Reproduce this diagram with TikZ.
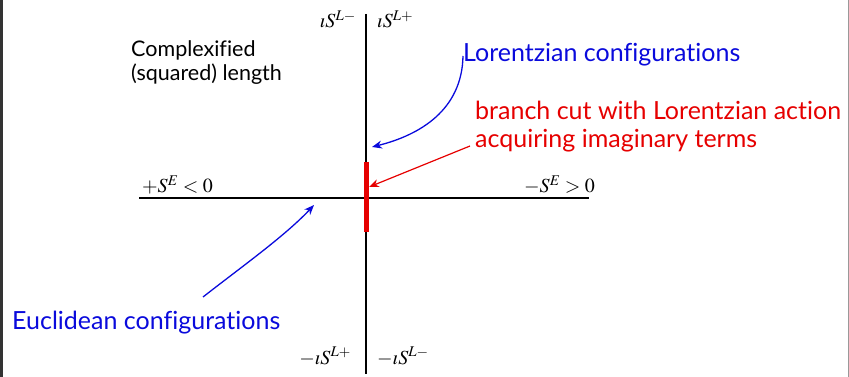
\documentclass[tikz,border=0pt]{standalone}
\usepackage{mathptmx}
\usepackage[no-math]{fontspec}
\setmainfont[Ligatures={NoCommon,NoRare,NoDiscretionary}]{Lato}
\usetikzlibrary{arrows.meta}
\definecolor{cblue}{RGB}{10,10,220}
\definecolor{cred}{RGB}{230,0,0}
\tikzset{
  axis/.style={draw=black, line width=1.3pt},
  blk/.style={inner sep=0pt, anchor=base west, font=\fontsize{21.5}{24}\selectfont},
  big/.style={inner sep=0pt, anchor=base west, font=\fontsize{25}{28}\selectfont},
  mlbl/.style={inner sep=0pt, font=\fontsize{20}{24}\selectfont},
  bluetxt/.style={big, text=cblue},
  redtxt/.style={big, text=cred},
  barrow/.style={draw=cblue, line width=1.3pt, -{Stealth[length=10pt,width=8pt]}},
  rarrow/.style={draw=cred, line width=1.2pt, -{Stealth[length=10pt,width=8pt]}},
}
\begin{document}
\begin{tikzpicture}[x=1pt,y=-1pt]
\useasboundingbox (0,0) rectangle (849,377);
\fill[black!80] (0,0) rectangle (3,377);
\draw[black!40, line width=0.6pt] (848,0) -- (848,377);
% axes
\coordinate (vtop) at (366,14);
\coordinate (vbot) at (366,374);
\coordinate (hl) at (139,198);
\coordinate (hr) at (589,198);
\draw[axis] (vtop) -- (vbot);
\draw[axis] (hl) -- (hr);
\coordinate (cuttop) at (366,162);
\coordinate (cutbot) at (366,232);
\draw[draw=cred, line width=5pt] (cuttop) -- (cutbot);
% axis labels
\node[mlbl, anchor=base east] (tl) at (356,28) {$\imath S^{L-}$};
\node[mlbl, anchor=base west] (tr) at (377,28) {$\imath S^{L+}$};
\node[mlbl, anchor=base east] (bl) at (351,364) {$-\imath S^{L+}$};
\node[mlbl, anchor=base west] (br) at (377,364) {$-\imath S^{L-}$};
\node[mlbl, anchor=base west] (pse) at (142,193) {$+S^{E}<0$};
\node[mlbl, anchor=base east] (mse) at (595,193) {$-S^{E}>0$};
% text
\node[blk] (cplx1) at (131,57) {Complexified};
\node[blk] (cplx2) at (131,81) {(squared) length};
\node[bluetxt] (lor) at (463,62) {Lorentzian configurations};
\node[redtxt] (br1) at (475,120) {branch cut with Lorentzian action};
\node[redtxt] (br2) at (475,148) {acquiring imaginary terms};
\node[bluetxt] (euc) at (12,329) {Euclidean configurations};
% arrows
\coordinate (lorstart) at (463,56);
\coordinate (lortip) at (372,147);
\coordinate (redstart) at (470,146);
\coordinate (redtip) at (369,187);
\coordinate (eucstart) at (203,297);
\coordinate (euctip) at (314,205);
\draw[barrow] (lorstart) .. controls (462,110) and (420,135) .. (lortip);
\draw[rarrow] (redstart) -- (redtip);
\draw[barrow] (eucstart) .. controls (240,268) and (285,236) .. (euctip);
\end{tikzpicture}
\end{document}
